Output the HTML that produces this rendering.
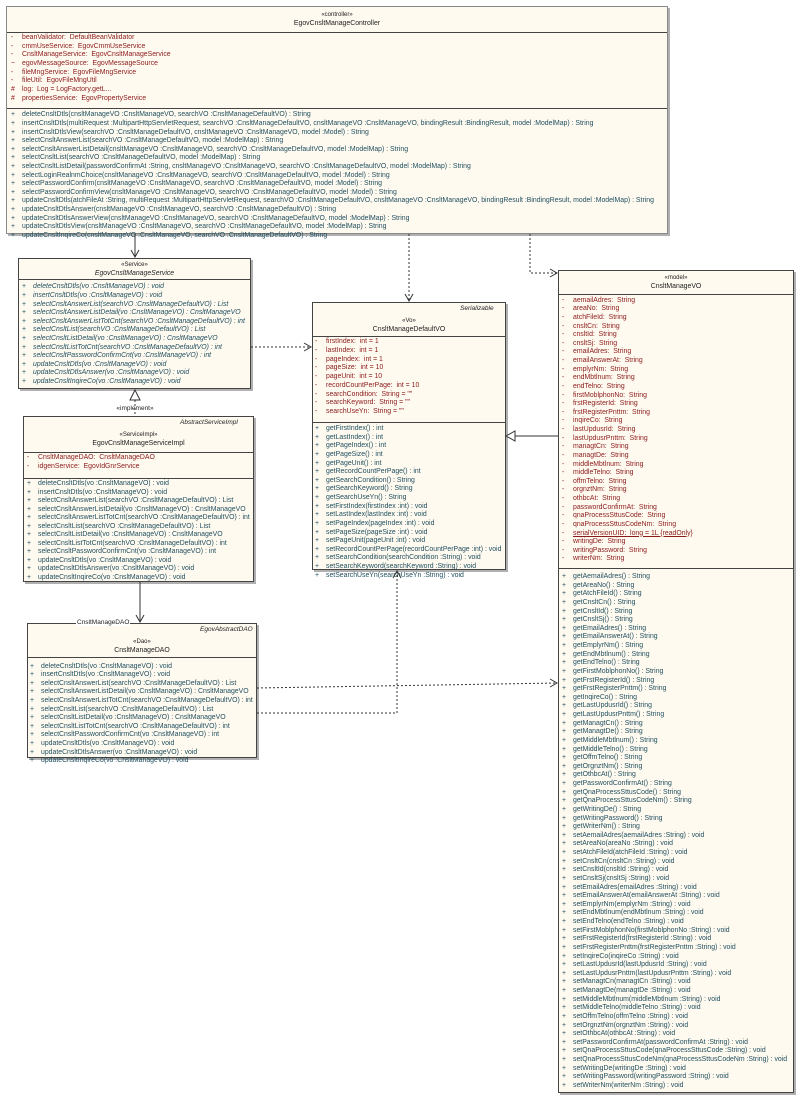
<!DOCTYPE html>
<html><head><meta charset="utf-8"><style>
*{margin:0;padding:0;box-sizing:border-box}
body{width:800px;height:1097px;background:#fff;position:relative;overflow:hidden;font-family:"Liberation Sans",sans-serif;font-size:6.9px;color:#1f4f5f}
.box{position:absolute;background:#fffaf0;border:1px solid #444;box-shadow:2px 2px 0 #b0b0b0}
.sep{position:absolute;left:0;right:0;border-top:1px solid #444}
.t{position:absolute;left:0;right:0;text-align:center;color:#222;white-space:nowrap}
.st{font-size:6px}
.sec{position:absolute;white-space:nowrap}
.sec div{height:var(--lh);line-height:var(--lh);white-space:pre}
.sec i{display:inline-block;font-style:normal;width:11px}
.a{color:#8b1a1a}
.m{color:#1f4f5f}
.it div{font-style:italic}
.it div i{font-style:normal}
.rt{position:absolute;font-style:italic;color:#222;font-size:6.5px}
</style></head><body>

<!-- Controller -->
<div class="box" style="left:6px;top:6px;width:662px;height:228px;border-color:#888"></div>
<div class="t st" style="left:6px;width:662px;top:12px">«controller»</div>
<div class="t" style="left:6px;width:662px;top:20px">EgovCnsltManageController</div>
<div class="sep" style="left:7px;width:660px;right:auto;top:32px"></div>
<div class="sec a" style="left:11px;top:34px;--lh:8.67px"><div><i>-</i>beanValidator:  DefaultBeanValidator</div><div><i>-</i>cmmUseService:  EgovCmmUseService</div><div><i>-</i>CnsltManageService:  EgovCnsltManageService</div><div><i>~</i>egovMessageSource:  EgovMessageSource</div><div><i>-</i>fileMngService:  EgovFileMngService</div><div><i>-</i>fileUtil:  EgovFileMngUtil</div><div><i>#</i>log:  Log = LogFactory.getL...</div><div><i>#</i>propertiesService:  EgovPropertyService</div></div>
<div class="sep" style="left:7px;width:660px;right:auto;top:108px"></div>
<div class="sec m" style="left:11px;top:111.4px;--lh:8.6px"><div><i>+</i>deleteCnsltDtls(cnsltManageVO :CnsltManageVO, searchVO :CnsltManageDefaultVO) : String</div><div><i>+</i>insertCnsltDtls(multiRequest :MultipartHttpServletRequest, searchVO :CnsltManageDefaultVO, cnsltManageVO :CnsltManageVO, bindingResult :BindingResult, model :ModelMap) : String</div><div><i>+</i>insertCnsltDtlsView(searchVO :CnsltManageDefaultVO, cnsltManageVO :CnsltManageVO, model :Model) : String</div><div><i>+</i>selectCnsltAnswerList(searchVO :CnsltManageDefaultVO, model :ModelMap) : String</div><div><i>+</i>selectCnsltAnswerListDetail(cnsltManageVO :CnsltManageVO, searchVO :CnsltManageDefaultVO, model :ModelMap) : String</div><div><i>+</i>selectCnsltList(searchVO :CnsltManageDefaultVO, model :ModelMap) : String</div><div><i>+</i>selectCnsltListDetail(passwordConfirmAt :String, cnsltManageVO :CnsltManageVO, searchVO :CnsltManageDefaultVO, model :ModelMap) : String</div><div><i>+</i>selectLoginRealnmChoice(cnsltManageVO :CnsltManageVO, searchVO :CnsltManageDefaultVO, model :Model) : String</div><div><i>+</i>selectPasswordConfirm(cnsltManageVO :CnsltManageVO, searchVO :CnsltManageDefaultVO, model :Model) : String</div><div><i>+</i>selectPasswordConfirmView(cnsltManageVO :CnsltManageVO, searchVO :CnsltManageDefaultVO, model :Model) : String</div><div><i>+</i>updateCnsltDtls(atchFileAt :String, multiRequest :MultipartHttpServletRequest, searchVO :CnsltManageDefaultVO, cnsltManageVO :CnsltManageVO, bindingResult :BindingResult, model :ModelMap) : String</div><div><i>+</i>updateCnsltDtlsAnswer(cnsltManageVO :CnsltManageVO, searchVO :CnsltManageDefaultVO) : String</div><div><i>+</i>updateCnsltDtlsAnswerView(cnsltManageVO :CnsltManageVO, searchVO :CnsltManageDefaultVO, model :ModelMap) : String</div><div><i>+</i>updateCnsltDtlsView(cnsltManageVO :CnsltManageVO, searchVO :CnsltManageDefaultVO, model :ModelMap) : String</div><div><i>+</i>updateCnsltInqireCo(cnsltManageVO :CnsltManageVO, searchVO :CnsltManageDefaultVO) : String</div></div>

<!-- Service -->
<div class="box" style="left:18px;top:258px;width:233px;height:131px"></div>
<div class="t st" style="left:18px;width:233px;top:262px">«Service»</div>
<div class="t" style="left:18px;width:233px;top:270px;font-style:italic">EgovCnsltManageService</div>
<div class="sep" style="left:19px;width:231px;right:auto;top:279px"></div>
<div class="sec m it" style="left:22px;top:283.4px;--lh:8.6px"><div><i>+</i>deleteCnsltDtls(vo :CnsltManageVO) : void</div><div><i>+</i>insertCnsltDtls(vo :CnsltManageVO) : void</div><div><i>+</i>selectCnsltAnswerList(searchVO :CnsltManageDefaultVO) : List</div><div><i>+</i>selectCnsltAnswerListDetail(vo :CnsltManageVO) : CnsltManageVO</div><div><i>+</i>selectCnsltAnswerListTotCnt(searchVO :CnsltManageDefaultVO) : int</div><div><i>+</i>selectCnsltList(searchVO :CnsltManageDefaultVO) : List</div><div><i>+</i>selectCnsltListDetail(vo :CnsltManageVO) : CnsltManageVO</div><div><i>+</i>selectCnsltListTotCnt(searchVO :CnsltManageDefaultVO) : int</div><div><i>+</i>selectCnsltPasswordConfirmCnt(vo :CnsltManageVO) : int</div><div><i>+</i>updateCnsltDtls(vo :CnsltManageVO) : void</div><div><i>+</i>updateCnsltDtlsAnswer(vo :CnsltManageVO) : void</div><div><i>+</i>updateCnsltInqireCo(vo :CnsltManageVO) : void</div></div>
<div class="t" style="left:85px;width:100px;top:405px;font-size:6.5px">«implement»</div>

<!-- ServiceImpl -->
<div class="box" style="left:23px;top:416px;width:231px;height:166px"></div>
<div class="rt" style="left:180px;top:419px">AbstractServiceImpl</div>
<div class="t st" style="left:23px;width:231px;top:432px">«ServiceImpl»</div>
<div class="t" style="left:23px;width:231px;top:440px">EgovCnsltManageServiceImpl</div>
<div class="sep" style="left:24px;width:229px;right:auto;top:452px"></div>
<div class="sec a" style="left:27px;top:454.2px;--lh:8.6px"><div><i>-</i>CnsltManageDAO:  CnsltManageDAO</div><div><i>-</i>idgenService:  EgovIdGnrService</div></div>
<div class="sep" style="left:24px;width:229px;right:auto;top:478px"></div>
<div class="sec m" style="left:27px;top:480.4px;--lh:8.5px"><div><i>+</i>deleteCnsltDtls(vo :CnsltManageVO) : void</div><div><i>+</i>insertCnsltDtls(vo :CnsltManageVO) : void</div><div><i>+</i>selectCnsltAnswerList(searchVO :CnsltManageDefaultVO) : List</div><div><i>+</i>selectCnsltAnswerListDetail(vo :CnsltManageVO) : CnsltManageVO</div><div><i>+</i>selectCnsltAnswerListTotCnt(searchVO :CnsltManageDefaultVO) : int</div><div><i>+</i>selectCnsltList(searchVO :CnsltManageDefaultVO) : List</div><div><i>+</i>selectCnsltListDetail(vo :CnsltManageVO) : CnsltManageVO</div><div><i>+</i>selectCnsltListTotCnt(searchVO :CnsltManageDefaultVO) : int</div><div><i>+</i>selectCnsltPasswordConfirmCnt(vo :CnsltManageVO) : int</div><div><i>+</i>updateCnsltDtls(vo :CnsltManageVO) : void</div><div><i>+</i>updateCnsltDtlsAnswer(vo :CnsltManageVO) : void</div><div><i>+</i>updateCnsltInqireCo(vo :CnsltManageVO) : void</div></div>

<!-- DAO -->
<div class="box" style="left:27px;top:623px;width:230px;height:135px"></div>
<div style="position:absolute;left:76px;top:619px;background:#fff;color:#222;padding:0 1px;font-size:6.5px">CnsltManageDAO</div>
<div class="rt" style="left:200px;top:626px">EgovAbstractDAO</div>
<div class="t st" style="left:27px;width:230px;top:639px">«Dao»</div>
<div class="t" style="left:27px;width:230px;top:647px">CnsltManageDAO</div>
<div class="sep" style="left:28px;width:228px;right:auto;top:657px"></div>
<div class="sec m" style="left:30px;top:662.7px;--lh:8.6px"><div><i>+</i>deleteCnsltDtls(vo :CnsltManageVO) : void</div><div><i>+</i>insertCnsltDtls(vo :CnsltManageVO) : void</div><div><i>+</i>selectCnsltAnswerList(searchVO :CnsltManageDefaultVO) : List</div><div><i>+</i>selectCnsltAnswerListDetail(vo :CnsltManageVO) : CnsltManageVO</div><div><i>+</i>selectCnsltAnswerListTotCnt(searchVO :CnsltManageDefaultVO) : int</div><div><i>+</i>selectCnsltList(searchVO :CnsltManageDefaultVO) : List</div><div><i>+</i>selectCnsltListDetail(vo :CnsltManageVO) : CnsltManageVO</div><div><i>+</i>selectCnsltListTotCnt(searchVO :CnsltManageDefaultVO) : int</div><div><i>+</i>selectCnsltPasswordConfirmCnt(vo :CnsltManageVO) : int</div><div><i>+</i>updateCnsltDtls(vo :CnsltManageVO) : void</div><div><i>+</i>updateCnsltDtlsAnswer(vo :CnsltManageVO) : void</div><div><i>+</i>updateCnsltInqireCo(vo :CnsltManageVO) : void</div></div>

<!-- DefaultVO -->
<div class="box" style="left:312px;top:302px;width:194px;height:268px"></div>
<div class="rt" style="left:460px;top:305px">Serializable</div>
<div class="t st" style="left:312px;width:194px;top:318px">«Vo»</div>
<div class="t" style="left:312px;width:194px;top:326px">CnsltManageDefaultVO</div>
<div class="sep" style="left:313px;width:192px;right:auto;top:336px"></div>
<div class="sec a" style="left:315px;top:338.4px;--lh:8.7px"><div><i>-</i>firstIndex:  int = 1</div><div><i>-</i>lastIndex:  int = 1</div><div><i>-</i>pageIndex:  int = 1</div><div><i>-</i>pageSize:  int = 10</div><div><i>-</i>pageUnit:  int = 10</div><div><i>-</i>recordCountPerPage:  int = 10</div><div><i>-</i>searchCondition:  String = ""</div><div><i>-</i>searchKeyword:  String = ""</div><div><i>-</i>searchUseYn:  String = ""</div></div>
<div class="sep" style="left:313px;width:192px;right:auto;top:422px"></div>
<div class="sec m" style="left:315px;top:425px;--lh:8.63px"><div><i>+</i>getFirstIndex() : int</div><div><i>+</i>getLastIndex() : int</div><div><i>+</i>getPageIndex() : int</div><div><i>+</i>getPageSize() : int</div><div><i>+</i>getPageUnit() : int</div><div><i>+</i>getRecordCountPerPage() : int</div><div><i>+</i>getSearchCondition() : String</div><div><i>+</i>getSearchKeyword() : String</div><div><i>+</i>getSearchUseYn() : String</div><div><i>+</i>setFirstIndex(firstIndex :int) : void</div><div><i>+</i>setLastIndex(lastIndex :int) : void</div><div><i>+</i>setPageIndex(pageIndex :int) : void</div><div><i>+</i>setPageSize(pageSize :int) : void</div><div><i>+</i>setPageUnit(pageUnit :int) : void</div><div><i>+</i>setRecordCountPerPage(recordCountPerPage :int) : void</div><div><i>+</i>setSearchCondition(searchCondition :String) : void</div><div><i>+</i>setSearchKeyword(searchKeyword :String) : void</div><div><i>+</i>setSearchUseYn(searchUseYn :String) : void</div></div>

<!-- CnsltManageVO -->
<div class="box" style="left:558px;top:270px;width:236px;height:823px"></div>
<div class="t st" style="left:558px;width:236px;top:275px">«model»</div>
<div class="t" style="left:558px;width:236px;top:283px">CnsltManageVO</div>
<div class="sep" style="left:559px;width:234px;right:auto;top:294px"></div>
<div class="sec a" style="left:562px;top:296.7px;--lh:8.63px"><div><i>-</i>aemailAdres:  String</div><div><i>-</i>areaNo:  String</div><div><i>-</i>atchFileId:  String</div><div><i>-</i>cnsltCn:  String</div><div><i>-</i>cnsltId:  String</div><div><i>-</i>cnsltSj:  String</div><div><i>-</i>emailAdres:  String</div><div><i>-</i>emailAnswerAt:  String</div><div><i>-</i>emplyrNm:  String</div><div><i>-</i>endMbtlnum:  String</div><div><i>-</i>endTelno:  String</div><div><i>-</i>firstMoblphonNo:  String</div><div><i>-</i>frstRegisterId:  String</div><div><i>-</i>frstRegisterPnttm:  String</div><div><i>-</i>inqireCo:  String</div><div><i>-</i>lastUpdusrId:  String</div><div><i>-</i>lastUpdusrPnttm:  String</div><div><i>-</i>managtCn:  String</div><div><i>-</i>managtDe:  String</div><div><i>-</i>middleMbtlnum:  String</div><div><i>-</i>middleTelno:  String</div><div><i>-</i>offmTelno:  String</div><div><i>-</i>orgnztNm:  String</div><div><i>-</i>othbcAt:  String</div><div><i>-</i>passwordConfirmAt:  String</div><div><i>-</i>qnaProcessSttusCode:  String</div><div><i>-</i>qnaProcessSttusCodeNm:  String</div><div><i>-</i><u>serialVersionUID:  long = 1L {readOnly}</u></div><div><i>-</i>writingDe:  String</div><div><i>-</i>writingPassword:  String</div><div><i>-</i>writerNm:  String</div></div>
<div class="sep" style="left:559px;width:234px;right:auto;top:568px"></div>
<div class="sec m" style="left:562px;top:573px;--lh:8.63px"><div><i>+</i>getAemailAdres() : String</div><div><i>+</i>getAreaNo() : String</div><div><i>+</i>getAtchFileId() : String</div><div><i>+</i>getCnsltCn() : String</div><div><i>+</i>getCnsltId() : String</div><div><i>+</i>getCnsltSj() : String</div><div><i>+</i>getEmailAdres() : String</div><div><i>+</i>getEmailAnswerAt() : String</div><div><i>+</i>getEmplyrNm() : String</div><div><i>+</i>getEndMbtlnum() : String</div><div><i>+</i>getEndTelno() : String</div><div><i>+</i>getFirstMoblphonNo() : String</div><div><i>+</i>getFrstRegisterId() : String</div><div><i>+</i>getFrstRegisterPnttm() : String</div><div><i>+</i>getInqireCo() : String</div><div><i>+</i>getLastUpdusrId() : String</div><div><i>+</i>getLastUpdusrPnttm() : String</div><div><i>+</i>getManagtCn() : String</div><div><i>+</i>getManagtDe() : String</div><div><i>+</i>getMiddleMbtlnum() : String</div><div><i>+</i>getMiddleTelno() : String</div><div><i>+</i>getOffmTelno() : String</div><div><i>+</i>getOrgnztNm() : String</div><div><i>+</i>getOthbcAt() : String</div><div><i>+</i>getPasswordConfirmAt() : String</div><div><i>+</i>getQnaProcessSttusCode() : String</div><div><i>+</i>getQnaProcessSttusCodeNm() : String</div><div><i>+</i>getWritingDe() : String</div><div><i>+</i>getWritingPassword() : String</div><div><i>+</i>getWriterNm() : String</div><div><i>+</i>setAemailAdres(aemailAdres :String) : void</div><div><i>+</i>setAreaNo(areaNo :String) : void</div><div><i>+</i>setAtchFileId(atchFileId :String) : void</div><div><i>+</i>setCnsltCn(cnsltCn :String) : void</div><div><i>+</i>setCnsltId(cnsltId :String) : void</div><div><i>+</i>setCnsltSj(cnsltSj :String) : void</div><div><i>+</i>setEmailAdres(emailAdres :String) : void</div><div><i>+</i>setEmailAnswerAt(emailAnswerAt :String) : void</div><div><i>+</i>setEmplyrNm(emplyrNm :String) : void</div><div><i>+</i>setEndMbtlnum(endMbtlnum :String) : void</div><div><i>+</i>setEndTelno(endTelno :String) : void</div><div><i>+</i>setFirstMoblphonNo(firstMoblphonNo :String) : void</div><div><i>+</i>setFrstRegisterId(frstRegisterId :String) : void</div><div><i>+</i>setFrstRegisterPnttm(frstRegisterPnttm :String) : void</div><div><i>+</i>setInqireCo(inqireCo :String) : void</div><div><i>+</i>setLastUpdusrId(lastUpdusrId :String) : void</div><div><i>+</i>setLastUpdusrPnttm(lastUpdusrPnttm :String) : void</div><div><i>+</i>setManagtCn(managtCn :String) : void</div><div><i>+</i>setManagtDe(managtDe :String) : void</div><div><i>+</i>setMiddleMbtlnum(middleMbtlnum :String) : void</div><div><i>+</i>setMiddleTelno(middleTelno :String) : void</div><div><i>+</i>setOffmTelno(offmTelno :String) : void</div><div><i>+</i>setOrgnztNm(orgnztNm :String) : void</div><div><i>+</i>setOthbcAt(othbcAt :String) : void</div><div><i>+</i>setPasswordConfirmAt(passwordConfirmAt :String) : void</div><div><i>+</i>setQnaProcessSttusCode(qnaProcessSttusCode :String) : void</div><div><i>+</i>setQnaProcessSttusCodeNm(qnaProcessSttusCodeNm :String) : void</div><div><i>+</i>setWritingDe(writingDe :String) : void</div><div><i>+</i>setWritingPassword(writingPassword :String) : void</div><div><i>+</i>setWriterNm(writerNm :String) : void</div></div>

<svg width="800" height="1097" style="position:absolute;left:0;top:0" fill="none" stroke="#333" stroke-width="1">
<line x1="135" y1="234" x2="135" y2="257"/>
<polyline points="131,250 135,257 139,250"/>
<line x1="135" y1="400" x2="135" y2="416" stroke-dasharray="2,2"/>
<polygon points="135,390 130,400 140,400" fill="#fff"/>
<line x1="140" y1="582" x2="140" y2="622"/>
<polyline points="136,615 140,622 144,615"/>
<line x1="409" y1="234" x2="409" y2="301" stroke-dasharray="2,2"/>
<polyline points="405,294 409,301 413,294"/>
<polyline points="530,234 530,273 557,273" stroke-dasharray="2,2"/>
<polyline points="550,269 557,273 550,277"/>
<line x1="251" y1="347" x2="311" y2="347" stroke-dasharray="2,2"/>
<polyline points="304,343 311,347 304,351"/>
<line x1="515" y1="436" x2="558" y2="436"/>
<polygon points="506,436 515,431 515,441" fill="#fff"/>
<line x1="257" y1="688" x2="557" y2="683" stroke-dasharray="2,2"/>
<polyline points="550,679 557,683 550,687"/>
<polyline points="257,713 397,713 397,571" stroke-dasharray="2,2"/>
<polyline points="393,578 397,571 401,578"/>
</svg>
</body></html>
